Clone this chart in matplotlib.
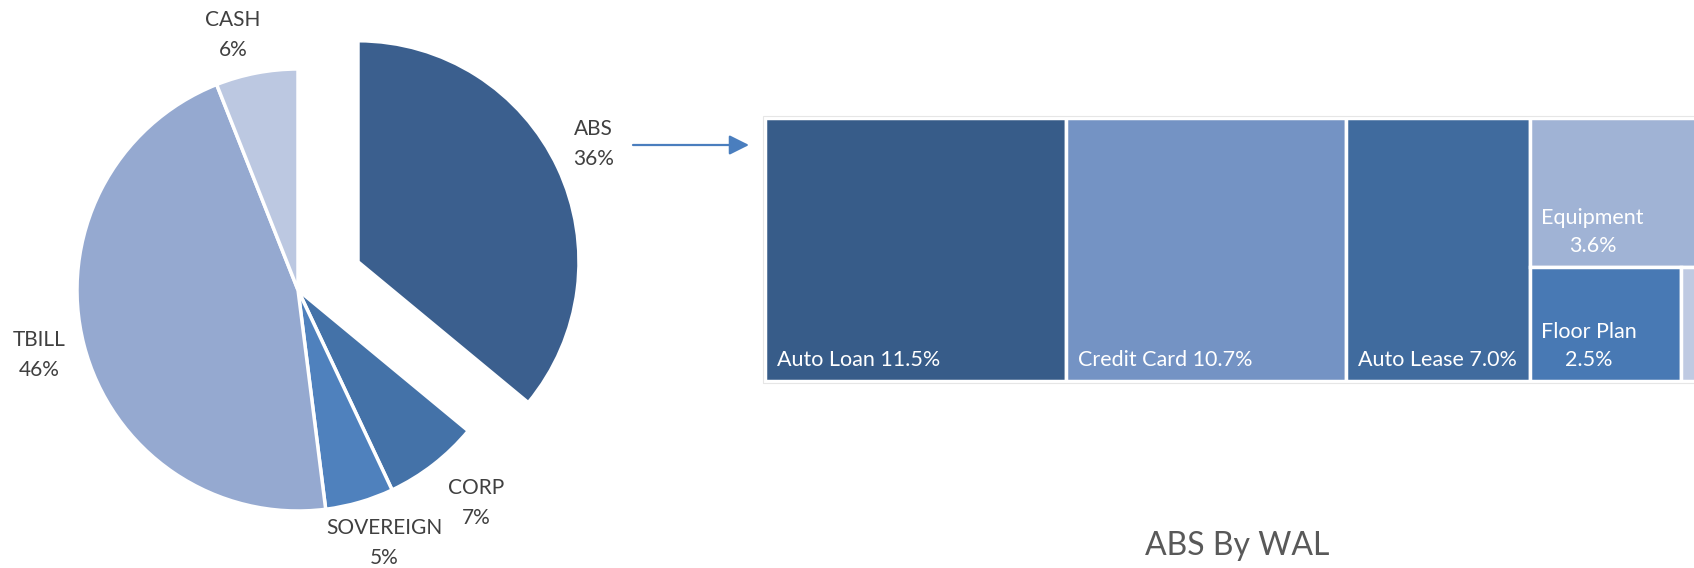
import matplotlib
matplotlib.use('Agg')
import matplotlib.pyplot as plt
import numpy as np
from matplotlib.patches import Rectangle, FancyArrowPatch

plt.rcParams['font.family'] = ['Lato', 'DejaVu Sans']

# portfolio split (pie)
sectors = ['ABS', 'CORP', 'SOVEREIGN', 'TBILL', 'CASH']
sector_pct = [36, 7, 5, 46, 6]
sector_colors = ['#3B5F8E', '#4472A8', '#4F81BD', '#95A9D0', '#BCC8E1']
sector_explode = [0.3, 0, 0, 0, 0]

# ABS breakdown (treemap)
abs_types = ['Auto Loan', 'Credit Card', 'Auto Lease', 'Equipment', 'Floor Plan', 'Other']
abs_pct = [11.5, 10.7, 7.0, 3.6, 2.5, 0.25]
abs_colors = ['#375C89', '#7493C4', '#406B9E', '#A0B3D5', '#4879B4', '#BFCAE2']

# pie label placement: radius (x R) and angle nudge (deg) per slice
label_r = [1.19, 1.256, 1.21, 1.208, 1.19]
label_nudge = [1.4, 2.1, 2.6, -0.3, 3.5]

W, H = 1694, 568
TEXT = '#404040'


def px_box(x0, y0, x1, y1):
    # pixel box (top-left origin) -> figure fraction [left, bottom, w, h]
    return [x0 / W, 1 - y1 / H, (x1 - x0) / W, (y1 - y0) / H]


def treemap_rects(vals):
    """First three items as full columns, the rest stacked in the last column."""
    rects = []
    x = 0.0
    for v in vals[:3]:
        rects.append((x, 0.0, v, 1.0))
        x += v
    col_w = sum(vals[3:])
    top_h = vals[3] / col_w
    rects.append((x, 1 - top_h, col_w, top_h))
    bot_h = 1 - top_h
    for v in vals[4:]:
        w = v / bot_h
        rects.append((x, 0.0, w, bot_h))
        x += w
    return rects


fig = plt.figure(figsize=(W / 100, H / 100), dpi=100)

# ---- pie ----
R = 221
cx, cy = 298, 290
lx, ly = 1.34, 1.26
ax = fig.add_axes(px_box(cx - lx * R, cy - ly * R, cx + lx * R, cy + ly * R))
wedges, _ = ax.pie(sector_pct, explode=sector_explode, colors=sector_colors,
                   startangle=90, counterclock=False,
                   wedgeprops=dict(edgecolor='white', linewidth=2.5))
for w, s, p, ex, r, nd in zip(wedges, sectors, sector_pct, sector_explode,
                              label_r, label_nudge):
    mid = np.deg2rad((w.theta1 + w.theta2) / 2)
    ang = mid + np.deg2rad(nd)
    x = ex * np.cos(mid) + r * np.cos(ang)
    y = ex * np.sin(mid) + r * np.sin(ang)
    ax.text(x, y, f'{s}\n{p}%', ha='center', va='center', fontsize=15,
            color=TEXT, linespacing=1.6)
ax.set_xlim(-lx, lx)
ax.set_ylim(-ly, ly)

# arrow from ABS slice to the breakdown
arrow = FancyArrowPatch((633 / W, 1 - 145 / H), (749 / W, 1 - 145 / H),
                        transform=fig.transFigure,
                        arrowstyle='-|>,head_length=1.0,head_width=0.5',
                        mutation_scale=12, color='#4A7EBE', lw=1.6,
                        shrinkA=0, shrinkB=0)
fig.add_artist(arrow)

# ---- treemap ----
total = sum(abs_pct)
tx0, tx1, ty0, ty1 = 765, 1696, 117.5, 381
tm = fig.add_axes(px_box(tx0, ty0, tx1, ty1))
tm.set_xlim(0, total)
tm.set_ylim(0, 1)
tm.axis('off')

fig.add_artist(Rectangle((763 / W, 1 - 383 / H), (1720 - 763) / W, (383 - 116) / H,
                         transform=fig.transFigure, fill=False,
                         edgecolor='#E6E6E6', linewidth=0.8))

px_per_unit = (tx1 - tx0) / total
for (x, y, w, h), name, val, c in zip(treemap_rects(abs_pct), abs_types, abs_pct, abs_colors):
    tm.add_patch(Rectangle((x, y), w, h, facecolor=c, edgecolor='white', linewidth=2.5))
    wpx = w * px_per_unit
    if wpx < 60:
        continue
    label = f'{name} {val:.1f}%' if wpx > 175 else f'{name}\n{val:.1f}%'
    tm.annotate(label, xy=(x, y), xytext=(11.5, 11), textcoords='offset pixels',
                ha='left', va='bottom', multialignment='center',
                color='white', fontsize=15.5, linespacing=1.5)

fig.text(1237 / W, 1 - 555 / H, 'ABS By WAL', ha='center', va='baseline',
         fontsize=23, color='#595959')

plt.savefig('out.png', dpi=100)
plt.close()
